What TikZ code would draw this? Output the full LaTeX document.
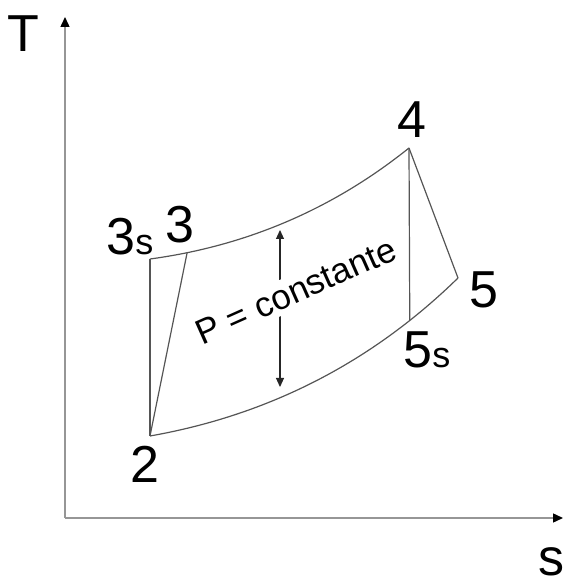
\documentclass[tikz,border=0pt]{standalone}
\usepackage{fontspec}
\setmainfont{Liberation Sans}
\usepackage{xcolor}
\definecolor{axisgray}{RGB}{150,150,150}
\definecolor{linegray}{RGB}{85,85,85}
\usetikzlibrary{arrows.meta}

\begin{document}
\begin{tikzpicture}[
  x=1pt, y=1pt,
  axis/.style={draw=axisgray, line width=1.4pt,
    -{Triangle[length=10pt, width=9pt, black]}},
  cycleline/.style={draw=linegray, line width=1.2pt},
  lbl/.style={inner sep=0pt, anchor=base,
    font=\fontsize{52}{52}\selectfont},
  sub/.style={font=\fontsize{36}{36}\selectfont},
]
\useasboundingbox (0,0) rectangle (564,579);

\coordinate (O) at (65,61);
\coordinate (Ttop) at (65,562);
\coordinate (sEnd) at (563,61);
\draw[axis] (O) -- (Ttop);
\draw[axis] (O) -- (sEnd);

\coordinate (p2) at (150,143);
\coordinate (p3s) at (150,320);
\coordinate (p4) at (409,431);
\coordinate (p5) at (458,301);

\draw[cycleline] (p3s) .. controls (246.5,333) and (333,370) .. (p4)
  coordinate[pos=0.13] (p3);
\draw[cycleline] (p2) .. controls (269,164) and (371.6,216.6) .. (p5)
  coordinate[pos=0.82] (p5s);
\draw[cycleline] (p3s) -- (p2);
\draw[cycleline] (p3) -- (p2);
\draw[cycleline] (p4) -- (p5s);
\draw[cycleline] (p4) -- (p5);

\coordinate (arrTop) at (280,349);
\coordinate (arrBot) at (280,192);
\draw[draw=black!85, line width=1.1pt,
  {Triangle[length=9pt, width=8pt]}-{Triangle[length=9pt, width=8pt]}]
  (arrTop) -- (arrBot);
\node[rotate=24, fill=white, inner xsep=1pt, inner ysep=4.5pt,
  font=\fontsize{35}{35}\selectfont] (pconst) at (296,288) {P = constante};

\node[lbl] (lT) at (23,527) {T};
\node[lbl] (ls) at (551,4) {s};
\node[lbl] (l3s) at (130,324) {3{\fontsize{36}{36}\selectfont s}};
\node[lbl] (l3) at (180,336) {3};
\node[lbl] (l2) at (145,96) {2};
\node[lbl] (l4) at (412,441) {4};
\node[lbl] (l5s) at (427,211) {5{\fontsize{36}{36}\selectfont s}};
\node[lbl] (l5) at (484,271) {5};
\end{tikzpicture}
\end{document}
